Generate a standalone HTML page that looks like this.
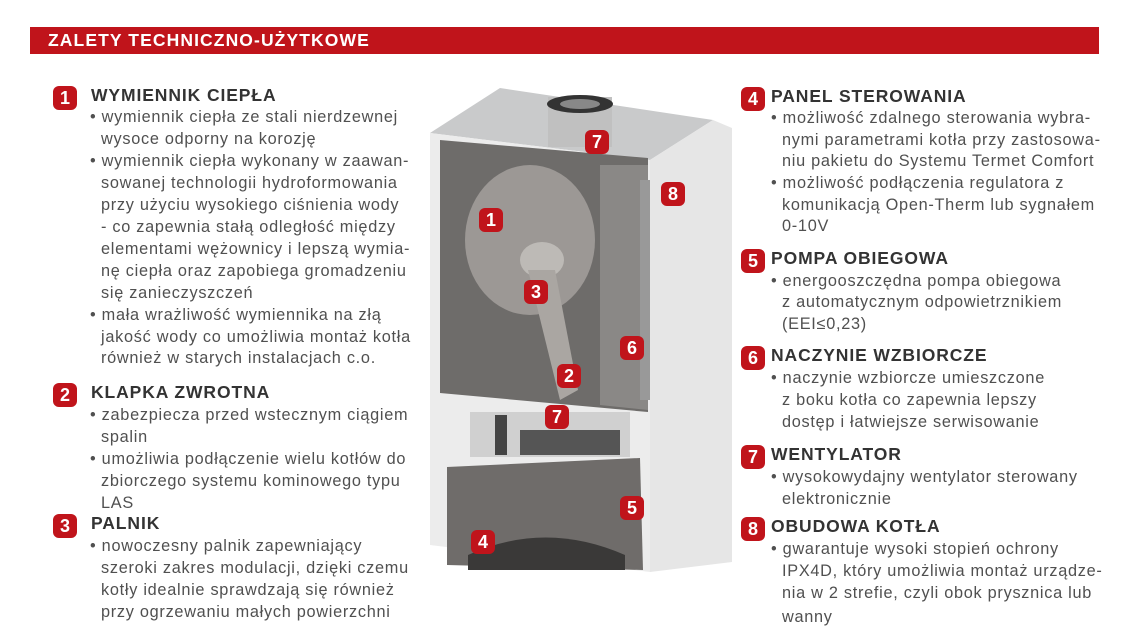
<!DOCTYPE html>
<html><head><meta charset="utf-8"><style>
body{margin:0;width:1123px;height:639px;background:#fff;position:relative;overflow:hidden;font-family:"Liberation Sans",sans-serif}
.l{position:absolute;white-space:nowrap;font-size:16.3px;letter-spacing:0.72px;line-height:22px;height:22px;color:#505050}
.h{position:absolute;white-space:nowrap;font-size:17.5px;letter-spacing:0.9px;font-weight:bold;line-height:22px;color:#333}
.b{position:absolute;width:24px;height:24px;background:#c0141b;border-radius:6px;color:#fff;font-weight:bold;font-size:18px;line-height:24px;text-align:center}
</style></head><body>
<div style="position:absolute;left:30px;top:27px;width:1069px;height:27px;background:#c0141b"></div>
<div style="position:absolute;left:48px;top:27px;line-height:27px;color:#fff;font-weight:bold;font-size:17.5px;letter-spacing:1.1px">ZALETY TECHNICZNO-UŻYTKOWE</div>

<svg style="position:absolute;left:0;top:0" width="1123" height="639">
<polygon points="430,133 500,88 713,120 650,160" fill="#c9cacb"/>
<polygon points="650,160 713,120 732,128 732,562 650,572" fill="#e6e6e6"/>
<polygon points="430,133 650,160 650,572 430,545" fill="#ececec"/>
<polygon points="440,140 648,158 648,412 440,393" fill="#6e6c6a"/>
<polygon points="600,165 648,165 648,410 600,405" fill="#8a8886"/>
<ellipse cx="530" cy="240" rx="65" ry="75" fill="#9c9895"/>
<ellipse cx="542" cy="260" rx="22" ry="18" fill="#bdbab6"/>
<polygon points="528,270 555,270 578,390 560,400" fill="#aaa6a2"/>
<rect x="640" y="180" width="10" height="220" fill="#999"/>
<rect x="470" y="412" width="160" height="45" fill="#d0d0d0"/>
<rect x="495" y="415" width="12" height="40" fill="#444"/>
<rect x="520" y="430" width="100" height="25" fill="#555"/>
<polygon points="447,467 640,458 643,570 447,565" fill="#6f6c6a"/>
<path d="M468,555 Q545,520 625,555 L625,570 L468,570 Z" fill="#3a3938"/>
<rect x="548" y="97" width="64" height="50" fill="#c0c0c0"/>
<ellipse cx="580" cy="104" rx="33" ry="9" fill="#333"/>
<ellipse cx="580" cy="104" rx="20" ry="5" fill="#888"/>
</svg>
<div class="b" style="left:479px;top:208px">1</div>
<div class="b" style="left:524px;top:280px">3</div>
<div class="b" style="left:557px;top:364px">2</div>
<div class="b" style="left:545px;top:405px">7</div>
<div class="b" style="left:585px;top:130px">7</div>
<div class="b" style="left:661px;top:182px">8</div>
<div class="b" style="left:620px;top:336px">6</div>
<div class="b" style="left:620px;top:496px">5</div>
<div class="b" style="left:471px;top:530px">4</div>

<div class="b" style="left:53px;top:86px">1</div>
<div class="h" style="left:91px;top:84px">WYMIENNIK CIEPŁA</div>
<div class="l" style="left:90px;top:106px">• wymiennik ciepła ze stali nierdzewnej</div>
<div class="l" style="left:101px;top:128px">wysoce odporny na korozję</div>
<div class="l" style="left:90px;top:150px">• wymiennik ciepła wykonany w zaawan-</div>
<div class="l" style="left:101px;top:172px">sowanej technologii hydroformowania</div>
<div class="l" style="left:101px;top:194px">przy użyciu wysokiego ciśnienia wody</div>
<div class="l" style="left:101px;top:216px">- co zapewnia stałą odległość między</div>
<div class="l" style="left:101px;top:238px">elementami wężownicy i lepszą wymia-</div>
<div class="l" style="left:101px;top:260px">nę ciepła oraz zapobiega gromadzeniu</div>
<div class="l" style="left:101px;top:282px">się zanieczyszczeń</div>
<div class="l" style="left:90px;top:304px">• mała wrażliwość wymiennika na złą</div>
<div class="l" style="left:101px;top:326px">jakość wody co umożliwia montaż kotła</div>
<div class="l" style="left:101px;top:347px">również w starych instalacjach c.o.</div>

<div class="b" style="left:53px;top:383px">2</div>
<div class="h" style="left:91px;top:381px">KLAPKA ZWROTNA</div>
<div class="l" style="left:90px;top:404px">• zabezpiecza przed wstecznym ciągiem</div>
<div class="l" style="left:101px;top:426px">spalin</div>
<div class="l" style="left:90px;top:448px">• umożliwia podłączenie wielu kotłów do</div>
<div class="l" style="left:101px;top:470px">zbiorczego systemu kominowego typu</div>
<div class="l" style="left:101px;top:492px">LAS</div>

<div class="b" style="left:53px;top:514px">3</div>
<div class="h" style="left:91px;top:512px">PALNIK</div>
<div class="l" style="left:90px;top:535px">• nowoczesny palnik zapewniający</div>
<div class="l" style="left:101px;top:557px">szeroki zakres modulacji, dzięki czemu</div>
<div class="l" style="left:101px;top:579px">kotły idealnie sprawdzają się również</div>
<div class="l" style="left:101px;top:601px">przy ogrzewaniu małych powierzchni</div>

<div class="b" style="left:741px;top:87px">4</div>
<div class="h" style="left:771px;top:85px">PANEL STEROWANIA</div>
<div class="l" style="left:771px;top:107px">• możliwość zdalnego sterowania wybra-</div>
<div class="l" style="left:782px;top:129px">nymi parametrami kotła przy zastosowa-</div>
<div class="l" style="left:782px;top:150px">niu pakietu do Systemu Termet Comfort</div>
<div class="l" style="left:771px;top:172px">• możliwość podłączenia regulatora z</div>
<div class="l" style="left:782px;top:194px">komunikacją Open-Therm lub sygnałem</div>
<div class="l" style="left:782px;top:215px">0-10V</div>

<div class="b" style="left:741px;top:249px">5</div>
<div class="h" style="left:771px;top:247px">POMPA OBIEGOWA</div>
<div class="l" style="left:771px;top:270px">• energooszczędna pompa obiegowa</div>
<div class="l" style="left:782px;top:291px">z automatycznym odpowietrznikiem</div>
<div class="l" style="left:782px;top:313px">(EEI≤0,23)</div>

<div class="b" style="left:741px;top:346px">6</div>
<div class="h" style="left:771px;top:344px">NACZYNIE WZBIORCZE</div>
<div class="l" style="left:771px;top:367px">• naczynie wzbiorcze umieszczone</div>
<div class="l" style="left:782px;top:389px">z boku kotła co zapewnia lepszy</div>
<div class="l" style="left:782px;top:411px">dostęp i łatwiejsze serwisowanie</div>

<div class="b" style="left:741px;top:445px">7</div>
<div class="h" style="left:771px;top:443px">WENTYLATOR</div>
<div class="l" style="left:771px;top:466px">• wysokowydajny wentylator sterowany</div>
<div class="l" style="left:782px;top:488px">elektronicznie</div>

<div class="b" style="left:741px;top:517px">8</div>
<div class="h" style="left:771px;top:515px">OBUDOWA KOTŁA</div>
<div class="l" style="left:771px;top:538px">• gwarantuje wysoki stopień ochrony</div>
<div class="l" style="left:782px;top:560px">IPX4D, który umożliwia montaż urządze-</div>
<div class="l" style="left:782px;top:582px">nia w 2 strefie, czyli obok prysznica lub</div>
<div class="l" style="left:782px;top:606px">wanny</div>
</body></html>
